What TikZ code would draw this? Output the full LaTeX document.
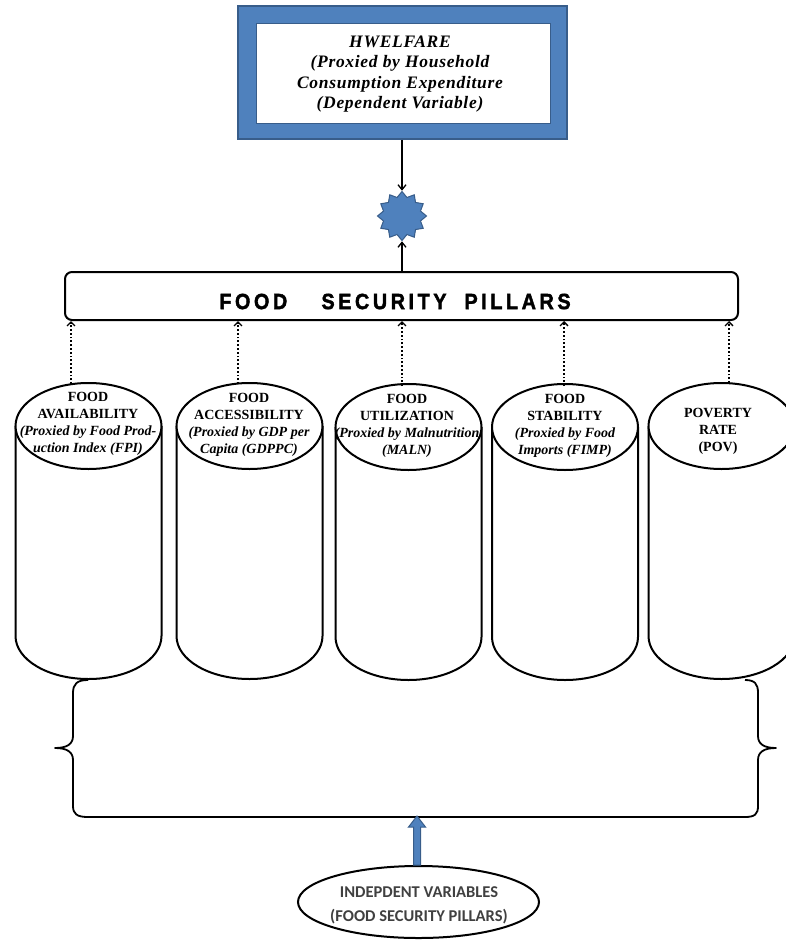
\documentclass[tikz,border=0pt]{standalone}
\usepackage{fontspec}
\setmainfont{Liberation Serif}
\newfontfamily\carl{Carlito}
\newfontfamily\welffont[LetterSpace=4]{Liberation Serif}
\newfontfamily\fspfont[LetterSpace=18,FakeBold=2]{Liberation Sans}
\usetikzlibrary{arrows.meta,shapes.geometric,calc}
\definecolor{ofblue}{HTML}{4F81BD}
\definecolor{ofdark}{HTML}{385D8A}
\definecolor{txtgray}{HTML}{404040}
\tikzset{
  cyl/.style={draw=black, line width=2pt, fill=white},
  cyltext/.style={align=center, font=\fontsize{14}{17}\selectfont\bfseries, inner sep=0pt},
  dotarrow/.style={line width=1.8pt, dotted, -{Straight Barb[length=4pt,width=8pt,line width=1.3pt]}},
  solidarrow/.style={line width=1.5pt, -{Straight Barb[length=5pt,width=8pt,line width=1.3pt]}},
  bluefill/.style={fill=ofblue, draw=ofdark, line width=1.5pt}
}
\newcommand{\cylinder}[4]{% cx, cy(top ellipse), rx, name
  \draw[cyl] (#1-#3,#2) -- (#1-#3,#2+210) arc[start angle=180,end angle=0,x radius=#3,y radius=43] -- (#1+#3,#2);
  \draw[cyl] (#1,#2) ellipse[x radius=#3,y radius=43];
  \coordinate (#4) at (#1,#2-43);
}
\begin{document}
\begin{tikzpicture}[x=1pt,y=-1pt]
\useasboundingbox (0,0) rectangle (786,940);

% dependent variable box
\node[bluefill, minimum width=329pt, minimum height=133pt, inner sep=0pt] (welf) at (402.5,72.5) {};
\node[fill=white, draw=ofdark, line width=1pt, minimum width=294pt, minimum height=100pt, inner sep=0pt] (welfin) at (403,73) {};
\node[align=center, inner sep=0pt, font=\fontsize{17.5}{20.5}\selectfont\welffont\bfseries\itshape] (welftext) at (400,74)
  {HWELFARE\\(Proxied by Household\\Consumption Expenditure\\(Dependent Variable)};

% star
\node[star, star points=12, star point ratio=1.28, minimum size=49pt, inner sep=0pt, bluefill, line width=1pt] (star) at (402,216) {};

% food security pillars box
\node[draw=black, line width=2pt, rounded corners=7pt, minimum width=673pt, minimum height=48pt, inner sep=0pt] (fsp) at (401.5,296) {};
\node[inner sep=0pt] (fsptext) at (395,301.5) {\scalebox{0.9}[1]{\fontsize{22}{22}\selectfont\fspfont\bfseries FOOD\hspace{38pt}SECURITY\hspace{20pt}PILLARS}};

\draw[solidarrow] (welf.south -| star) -- (star.north);
\draw[solidarrow] (fsp.north -| star) -- (star.south);

% cylinders
\cylinder{88.5}{426}{73}{t1}
\cylinder{249.5}{426}{73}{t2}
\cylinder{408.5}{427}{73}{t3}
\cylinder{565}{427}{73}{t4}
\cylinder{721.5}{426}{73}{t5}

\node[cyltext] (c1) at (88,424) {FOOD\\AVAILABILITY\\\itshape(Proxied by Food Prod-\\\itshape uction Index (FPI)};
\node[cyltext] (c2) at (249,425) {FOOD\\ACCESSIBILITY\\\itshape(Proxied by GDP per\\\itshape Capita (GDPPC)};
\node[cyltext] (c3) at (407,426) {FOOD\\UTILIZATION\\\itshape(Proxied by Malnutrition\\\itshape(MALN)};
\node[cyltext] (c4) at (565,426) {FOOD\\STABILITY\\\itshape(Proxied by Food\\\itshape Imports (FIMP)};
\node[cyltext] (c5) at (718,431) {POVERTY\\RATE\\(POV)};

% dotted arrows
\coordinate (d1) at (71,384);
\coordinate (d2) at (238,384);
\coordinate (d3) at (402,386);
\coordinate (d4) at (564,386);
\coordinate (d5) at (729,383);
\foreach \d in {d1,d2,d3,d4,d5}{
  \draw[dotarrow] (\d) -- (\d |- fsp.south);
}

% brace bracket
\draw[line width=1.8pt, line join=round]
  (88,680) .. controls (77,680) and (73,684) .. (73,693) -- (73,736)
  .. controls (73,744) and (67,748) .. (55,748)
  .. controls (67,748) and (73,752) .. (73,760) -- (73,806)
  .. controls (73,814) and (77,817) .. (88,817) -- (745,817)
  .. controls (755,817) and (758,814) .. (758,806) -- (758,760)
  .. controls (758,752) and (764,748) .. (776,748)
  .. controls (764,748) and (758,744) .. (758,736) -- (758,693)
  .. controls (758,684) and (755,680) .. (745,680);
\coordinate (bline) at (417,817);

% independent variables ellipse
\node[ellipse, draw=black, line width=2pt, minimum width=241pt, minimum height=72pt, inner sep=0pt] (indep) at (418.5,902) {};
\node[align=center, inner sep=0pt, text=txtgray, font=\fontsize{16.5}{24}\selectfont\carl\bfseries] (indeptext) at (419,905)
  {INDEPDENT VARIABLES\\(FOOD SECURITY PILLARS)};

% block arrow
\begin{scope}[shift={(indep.north -| bline)}]
\draw[bluefill, line width=1pt] (-3.5,0) -- (-3.5,-38) -- (-8.5,-38) -- (0,-49) -- (8.5,-38) -- (3.5,-38) -- (3.5,0) -- cycle;
\end{scope}
\end{tikzpicture}
\end{document}
